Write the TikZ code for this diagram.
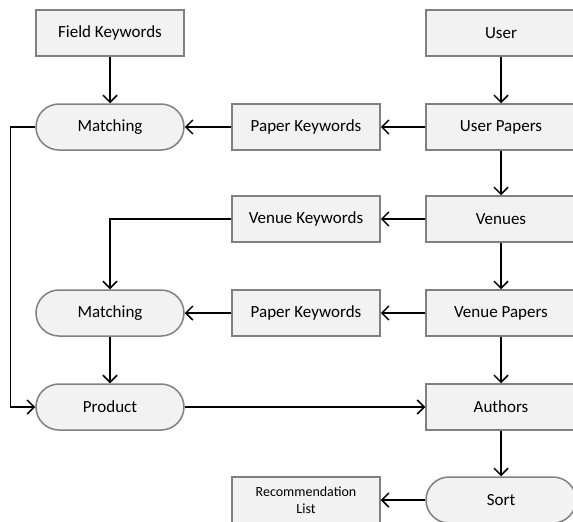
\documentclass[tikz,border=0pt]{standalone}
\usepackage{fontspec}
\setmainfont{Carlito}
\usepackage{tikz}
\usetikzlibrary{arrows.meta, positioning}
\definecolor{boxfill}{RGB}{242, 242, 242}
\definecolor{boxline}{RGB}{128, 128, 128}
\tikzset{
    box/.style={rectangle, draw=boxline, fill=boxfill, line width=1.5pt, minimum width=148pt, minimum height=46pt, font=\fontsize{17}{20}\selectfont},
    pill/.style={box, rounded corners=23pt},
    flow/.style={-{Straight Barb[length=7pt, width=14pt]}, line width=1.5pt}
}
\begin{document}
\begin{tikzpicture}[x=1pt, y=-1pt]
    \useasboundingbox (0,0) rectangle (573,522);
    % left column
    \node[box] (fk) at (110, 33) {Field Keywords};
    \node[pill] (m1) at (110, 127) {Matching};
    \node[pill] (m2) at (110, 313) {Matching};
    \node[pill] (prod) at (110, 407) {Product};

    % middle column
    \node[box] (pk1) at (306, 127) {Paper Keywords};
    \node[box] (vk) at (306, 219) {Venue Keywords};
    \node[box] (pk2) at (306, 313) {Paper Keywords};
    \node[box, align=center, font=\fontsize{14}{17}\selectfont] (rl) at (306, 500) {Recommendation\\List};

    % right column
    \node[box, minimum width=150pt] (user) at (501, 33) {User};
    \node[box, minimum width=150pt] (up) at (501, 127) {User Papers};
    \node[box, minimum width=150pt] (ven) at (501, 219) {Venues};
    \node[box, minimum width=150pt] (vp) at (501, 313) {Venue Papers};
    \node[box, minimum width=150pt] (auth) at (501, 407) {Authors};
    \node[pill, minimum width=150pt] (sort) at (501, 500) {Sort};

    % connectors
    \draw[flow] (fk) -- (m1);
    \draw[flow] (user) -- (up);
    \draw[flow] (up) -- (pk1);
    \draw[flow] (pk1) -- (m1);
    \draw[flow] (up) -- (ven);
    \draw[flow] (ven) -- (vk);
    \draw[flow] (vk.west) -| (m2.north);
    \draw[flow] (ven) -- (vp);
    \draw[flow] (vp) -- (pk2);
    \draw[flow] (pk2) -- (m2);
    \draw[flow] (vp) -- (auth);
    \draw[flow] (m2) -- (prod);
    \draw[flow] (m1.west) -- ++(-25,0) |- (prod.west);
    \draw[flow] (prod) -- (auth);
    \draw[flow] (auth) -- (sort);
    \draw[flow] (sort) -- (rl);
\end{tikzpicture}
\end{document}
